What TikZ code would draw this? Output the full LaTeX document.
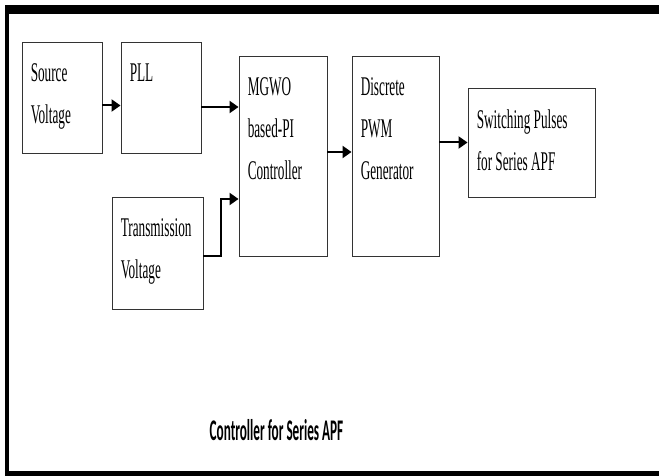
\documentclass[tikz,border=0pt]{standalone}
\usepackage{fontspec}
\usetikzlibrary{arrows.meta}
\newfontfamily\boxfont[FakeStretch=0.49]{Liberation Serif}
\newfontfamily\capfont[FakeStretch=0.44]{Carlito}
\begin{document}
\begin{tikzpicture}[
  x=1pt, y=-1pt,
  blk/.style 2 args={
    draw=black!80,
    line width=0.9pt,
    inner sep=0pt,
    minimum width=#1pt,
    minimum height=#2pt
  },
  txt/.style={
    anchor=north west,
    inner sep=0pt,
    align=left,
    xshift=9pt,
    yshift=-21.7pt,
    font=\boxfont\fontsize{27pt}{42pt}\selectfont
  },
  arr/.style={-{Triangle[length=9pt,width=12pt]}, line width=2pt}
]
\useasboundingbox (0,0) rectangle (659,476);
% frame
\fill (5,5) rectangle (659,14);
\fill (5,5) rectangle (9,476);
\fill (5,471) rectangle (659,476);
% blocks
\node[blk={80}{111}] (src) at (62,97.5) {};
\node[blk={80}{111}] (pll) at (161,97.5) {};
\node[blk={88}{200}] (mgwo) at (283,156) {};
\node[blk={91}{112}] (trans) at (157.5,253) {};
\node[blk={87}{200}] (pwm) at (395.5,156) {};
\node[blk={127}{109}] (sw) at (531.5,142.5) {};
% texts
\node[txt] (srcT) at (src.north west) {Source\\Voltage};
\node[txt] (pllT) at (pll.north west) {PLL};
\node[txt] (mgwoT) at (mgwo.north west) {MGWO\\based-PI\\Controller};
\node[txt] (transT) at (trans.north west) {Transmission\\Voltage};
\node[txt] (pwmT) at (pwm.north west) {Discrete\\PWM\\Generator};
\node[txt] (swT) at (sw.north west) {Switching Pulses\\for Series APF};
% connectors
\coordinate (tin) at ([yshift=-43pt]mgwo.west);
\draw[arr] ([yshift=-8pt]src.east) -- ([yshift=-8pt]pll.west);
\draw[arr] ([yshift=-9.5pt]pll.east) -- ([yshift=-9.5pt]pll.east -| mgwo.west);
\draw[arr] ([yshift=-3pt]trans.east) -- ++(18,0) |- (tin);
\draw[arr] ([yshift=4pt]mgwo.east) -- ([yshift=4pt]pwm.west);
\draw[arr] (pwm.east |- sw.west) -- (sw.west);
% caption
\node[anchor=base, inner sep=0pt, font=\capfont\bfseries\fontsize{30pt}{34pt}\selectfont] (cap) at (276.5,440) {Controller for Series APF};
\end{tikzpicture}
\end{document}
